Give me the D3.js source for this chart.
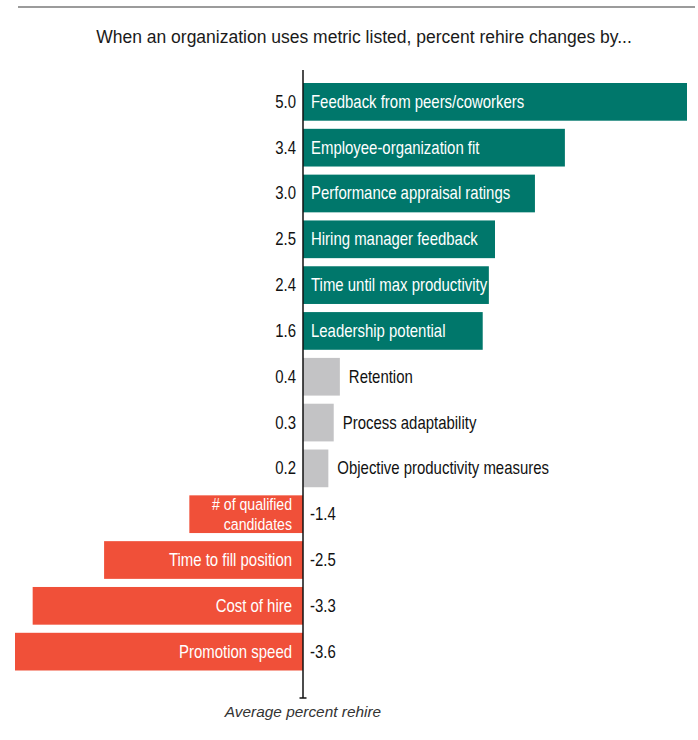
<!DOCTYPE html>
<html>
<head>
<meta charset="utf-8">
<script src="https://cdn.jsdelivr.net/npm/d3@7"></script>
<style>
  body { margin: 0; background: #fff; }
  svg { display: block; }
</style>
</head>
<body>
<svg id="chart" width="698" height="740"></svg>
<script>
// metrics, top to bottom
const metrics = [
    "Feedback from peers/coworkers",
    "Employee-organization fit",
    "Performance appraisal ratings",
    "Hiring manager feedback",
    "Time until max productivity",
    "Leadership potential",
    "Retention",
    "Process adaptability",
    "Objective productivity measures",
    "# of qualified\ncandidates",
    "Time to fill position",
    "Cost of hire",
    "Promotion speed"
];

// printed values (average percent rehire change)
const values = [5.0, 3.4, 3.0, 2.5, 2.4, 1.6, 0.4, 0.3, 0.2, -1.4, -2.5, -3.3, -3.6];

// bar ends as they are drawn in the picture (same units, not always equal to the printed value)
const barEnds = [5.0, 3.41, 3.02, 2.5, 2.42, 2.34, 0.48, 0.4, 0.33, -1.48, -2.59, -3.52, -3.75];

// colour group of each bar
const groups = ["pos", "pos", "pos", "pos", "pos", "pos", "small", "small", "small", "neg", "neg", "neg", "neg"];

const title = "When an organization uses metric listed, percent rehire changes by...";
const axisTitle = "Average percent rehire";

const colors = {pos: "#00776b", small: "#c3c3c5", neg: "#f05039"};
const regular = "'Liberation Sans', Arial, Helvetica, sans-serif";

const svg = d3.select("#chart");

const xScale = d3.scaleLinear()
    .domain([-3.75, 5])
    .range([15, 687]);

const yScale = d3.scaleBand()
    .domain(metrics)
    .range([83, 670.5])
    .paddingInner(0.177)
    .paddingOuter(0);

const x0 = xScale(0);
const rows = metrics.map((m, i) => ({name: m, value: values[i], end: barEnds[i], group: groups[i]}));

// no narrow font installed, so squeeze Liberation Sans horizontally
const squeeze = 0.83;
function narrowText(x, y, txt, anchor, fill) {
    const lines = txt.split("\n");
    const size = lines.length > 1 ? 17 : 18;
    const lineGap = 19.5;
    lines.forEach((ln, j) => {
        const ly = y + (j - (lines.length - 1) / 2) * lineGap;
        svg.append("g")
            .attr("transform", `translate(${x},${ly}) scale(${squeeze},1)`)
            .append("text")
            .attr("text-anchor", anchor)
            .attr("font-family", regular)
            .attr("font-size", size + "px")
            .attr("fill", fill)
            .text(ln);
    });
}

// rule across the top
svg.append("line")
    .attr("x1", 18).attr("x2", 695)
    .attr("y1", 7).attr("y2", 7)
    .attr("stroke", "#7a7a7a")
    .attr("stroke-width", 1.6);

// title
svg.append("text")
    .attr("x", 364)
    .attr("y", 43)
    .attr("text-anchor", "middle")
    .attr("font-family", regular)
    .attr("font-size", "17.5px")
    .attr("fill", "#1a1a1a")
    .text(title);

// bars
svg.selectAll(".bar")
    .data(rows)
    .enter().append("rect")
    .attr("class", "bar")
    .attr("x", d => Math.min(xScale(d.end), x0))
    .attr("y", d => yScale(d.name))
    .attr("width", d => Math.abs(xScale(d.end) - x0))
    .attr("height", yScale.bandwidth())
    .attr("fill", d => colors[d.group]);

// metric names and values
rows.forEach(d => {
    const cy = yScale(d.name) + yScale.bandwidth() / 2 + 6;
    if (d.group === "pos") {
        narrowText(x0 + 8, cy, d.name, "start", "#fff");
    } else if (d.group === "small") {
        narrowText(xScale(d.end) + 9, cy, d.name, "start", "#111");
    } else {
        narrowText(x0 - 11, cy, d.name, "end", "#fff");
    }
    const label = d3.format(".1f")(d.value).replace("−", "-");
    if (d.value >= 0) narrowText(x0 - 7, cy, label, "end", "#111");
    else narrowText(x0 + 7, cy, label, "start", "#111");
});

// zero axis
svg.append("line")
    .attr("x1", x0).attr("x2", x0)
    .attr("y1", 70).attr("y2", 698)
    .attr("stroke", "#111")
    .attr("stroke-width", 1.5);
svg.append("line")
    .attr("x1", x0 - 3.5).attr("x2", x0 + 3.5)
    .attr("y1", 698).attr("y2", 698)
    .attr("stroke", "#111")
    .attr("stroke-width", 1.5);

svg.append("text")
    .attr("x", x0)
    .attr("y", 717)
    .attr("text-anchor", "middle")
    .attr("font-family", regular)
    .attr("font-style", "italic")
    .attr("font-size", "15.4px")
    .attr("fill", "#333")
    .text(axisTitle);
</script>
</body>
</html>
